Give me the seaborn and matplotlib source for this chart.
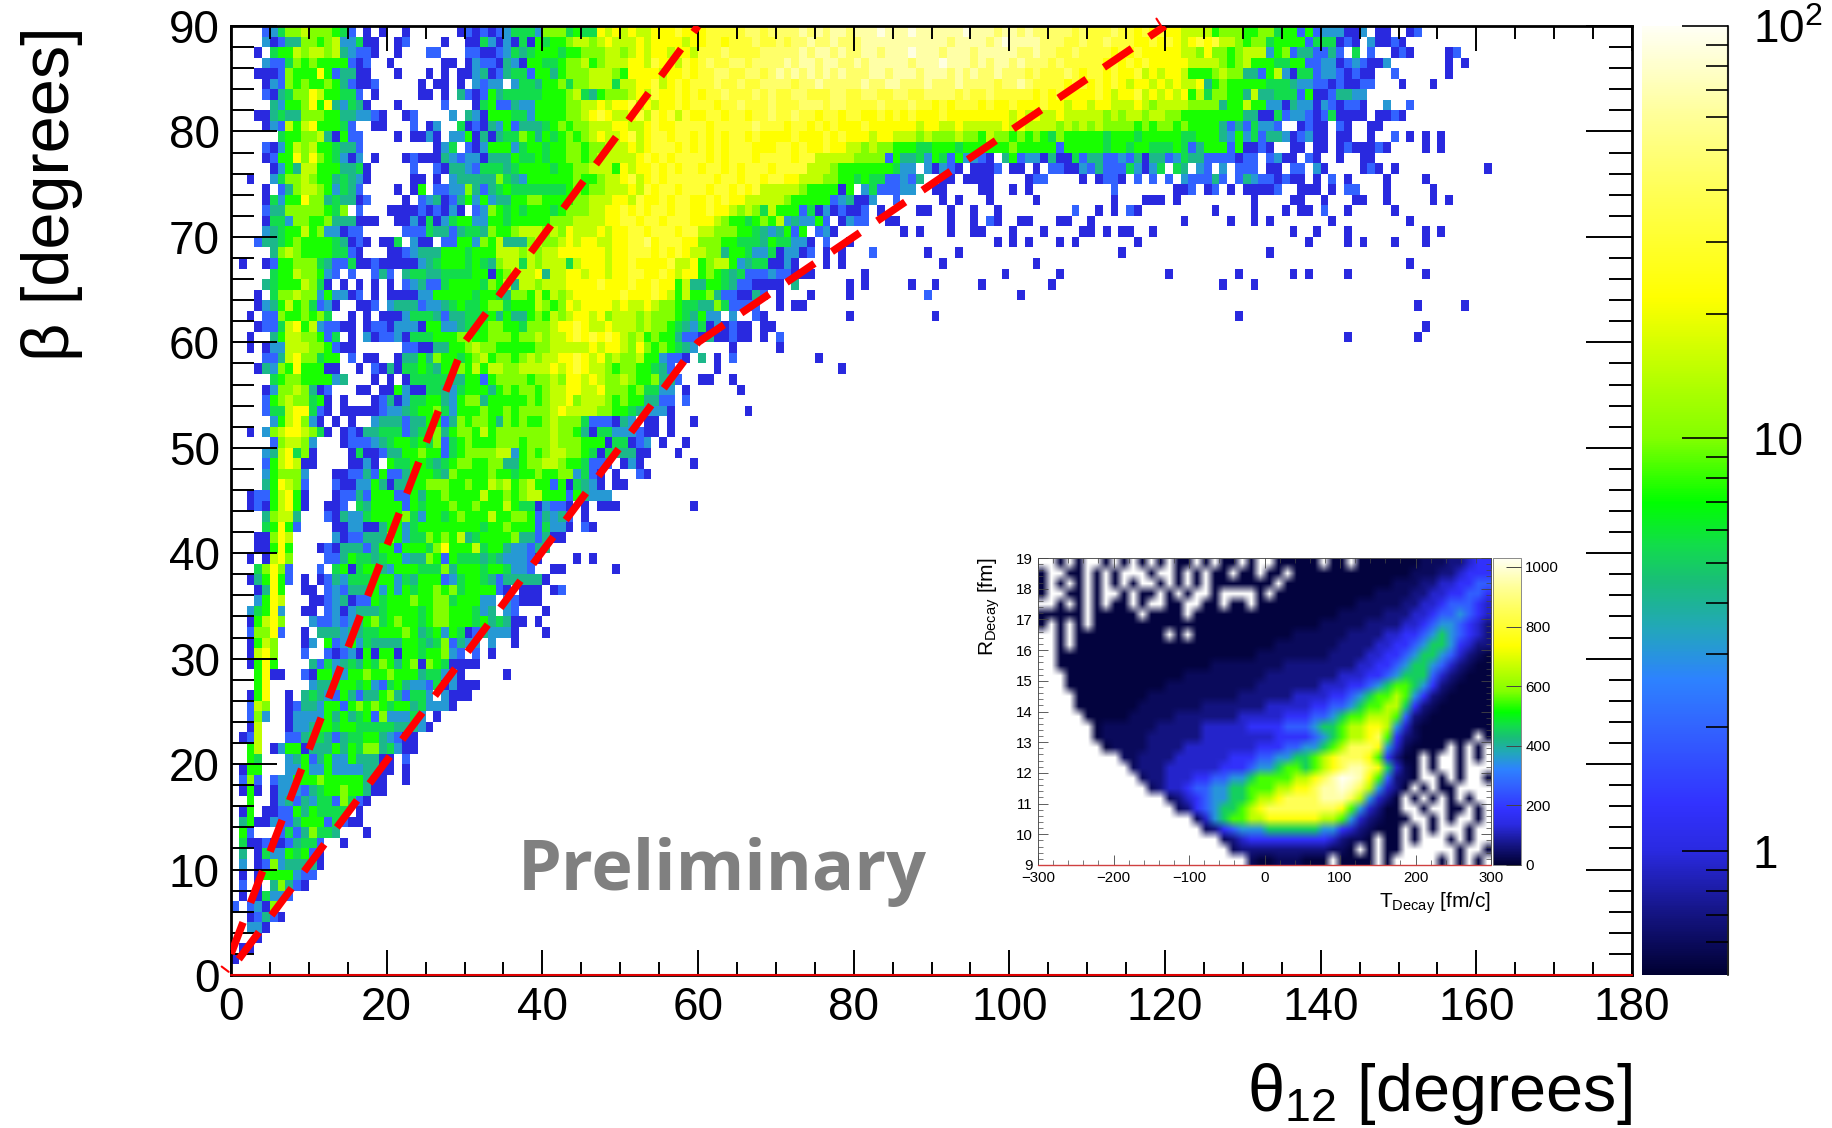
import matplotlib
matplotlib.use('Agg')
import matplotlib.pyplot as plt
from matplotlib.colors import LinearSegmentedColormap, LogNorm, Normalize
from matplotlib.ticker import FixedLocator, MultipleLocator
import numpy as np
import seaborn as sns

sns.set_style('white')
plt.rcParams['font.family'] = ['Liberation Sans', 'DejaVu Sans']
plt.rcParams['mathtext.fontset'] = 'custom'
plt.rcParams['mathtext.rm'] = 'Liberation Sans'
plt.rcParams['mathtext.it'] = 'Liberation Sans'
plt.rcParams['mathtext.default'] = 'rm'
plt.rcParams['text.color'] = 'black'
plt.rcParams['axes.labelcolor'] = 'black'
plt.rcParams['xtick.color'] = 'black'
plt.rcParams['ytick.color'] = 'black'
plt.rcParams['axes.axisbelow'] = False

# each character is one 1 degree bin, '.' is an empty bin
level_counts = {'1': 1, '2': 2, '3': 3.1, '4': 4.2, '5': 5.5, '6': 7.5, '7': 10, '8': 15,
                '9': 22, 'a': 32, 'b': 45, 'c': 65, 'd': 90}

# beta 89 down to 60
rows_top = [
    "....235778 777652.1.1 ..1......1 2121235553 7775655989 8988999a99 9aaaaabbab bbbcbcbccb cccdcccdcc ccccdcccbc cbcbbbbbab aaabaa9a9a 9988886777 6677566262 333113.11. .12",
    "....312447 767833511. .12....1.. 1153131516 5667887898 8898999989 9aa9aaabaa babbcbbcbb bccccccccc ccbccccbcd ccccbbbaab aabaaa99a9 a989a9a887 6775666625 55121.3112 1",
    "...1.56687 887843221. .1...22... 2211235456 6656677788 7898998998 aaabaaaabb bbbcbccbcb bccbcccdcc cbcccbcccc cbbcbbaaba aaa9a9a999 9988797767 8883672442 242.5.2..1 21....12",
    "....322576 76666212.. 1......11. 1322143166 5567786788 8998a998a9 abaabbabbb bcbccbccbb cbcccccbcc cdcccbcbcc bcbbbabaaa aa9a9a9a99 9998888767 8666556622 331232113. ......1.1",
    "...1112766 69624411.. .1...1.1.1 1341245526 6467778887 69999899a9 aabbaabbab cbcbcbcbcb bbccbcccbc ccbcbcbbcb bbabaaaba9 aa9a99a898 9986667877 4426831552 3321211..2 ......1",
    "....132767 667642112. ....1.11.1 .3233.3554 6675778885 8899a89a9a aabaabaabb bbabbcbbbb bcbbccbbbc bbbcbbbbab bcbaaaa9aa 9a9a989989 8988946766 6665554332 2121122... 1...1",
    "....214577 9866552.1. ....11.1.4 2126455555 6667854677 7898a99a9a 9aabaaabab aabbaaabba abbaabbaab bbbabaabaa aaa9a9a999 9a9899a898 9896857766 4844555261 124433",
    ".....43667 96943541.. .1.....2.. .156224336 6667788989 9a89899a9a aa9aabaaab aaabbbabba aaabaaabaa 9a9aaa9a99 a999a99899 8998889878 8887777466 8663314331 321221..3. .2",
    "...1145447 7766443321 ..12....3. 4316665536 6667789a98 89a8a9a8a9 9aa9aa9aab aabaa9aa9a a99a9a9a99 9a99999999 8989889888 8878788788 7766666666 4411523321 251111.112 1",
    "....132868 966652..11 ...2.13..5 1214362444 5676778889 9889a99aaa a9aaaaabaa a9aa9a9a99 9a99999989 9889888889 8988887878 7877776767 7676666424 25332..121 1.21..11",
    "......5667 7841622... .1.1131.33 6141455764 6567678988 9a89aa9aa9 a9a9aa9a99 99a999a9a9 9989988878 7778776877 6767657666 6656665666 6655666436 3524431231 1.11..1..2 .1.1.1",
    "....213687 8665442... ......135. 2136663566 5667767788 8989aaa9a9 a9a9aaa999 aa9a99a998 8787766655 6665666666 7666662666 6656656655 5652466626 1121..11.1 1.1211121. ...1.1",
    "....126697 9765313.1. ..12111432 3314446556 5667767888 889a9a9aaa a9a9aaa9aa aa9aa88888 7777264453 65263321.4 6233141152 4422324144 2354422221 22.2311.21 ..1..11",
    ".....13648 86664451.. ...2..2144 3255545666 6566778886 9899a9a9aa 9aa9a9aaa9 aaaa888766 66666533.3 1321.1112. 11.1.22113 2422253135 .54.32.3.2 22.11.22.3 1....121.1 .......... .1",
    "..1..35778 76645431.. ...11.1.34 4444754366 6666766788 9a89a9aaaa aa9aa9aa9a a998887766 565522324. .11.1111.. ..122....1 .1221.2.2. 2.322242.2 43221211.1 .2.1....1. ...1",
    "....1.2478 8763542... .1.16.2233 7424565555 5556767788 898a9aa9aa a9aa9a9a88 8887666616 .3522233.. 11....11.. 1.1....... ...2...... .112.12.1. 11112..111 .1.22...1. ....1",
    "....153669 77454412.. ..1.234124 6363446677 6666778889 98a99a9aa9 9a9a998888 8766666234 113..2.... .1.1...1.. ...1...... ...1...111 .1........ .1....11.. 1...11..1. ....1.1",
    "....244777 77657.2... 1111212131 .237656566 6567778899 a9a9aa9aa9 9a99878758 6662513121 12.1....11 ..1..1..1. ........2. .1.1.21... ......1... .1...1.11. 2..1.....1",
    "....155377 667444111. .113151356 6336656666 6777888899 aa9aa9aaa9 9987665676 8343362.13 22..11.... ..1..1.21. .11...11.. 1......... ..1.....1. .1.1...... .1........ .1",
    "....345668 6733122... ..22254424 5547667888 7879888989 9aa9aaa9aa 8877766543 4626.231.. ......1.1. ..1..11... 1...1....1 1.1.11..1. .......... ......1..1 ...1...... ...1.1",
    "...2445676 66654121.1 15.311.226 6376844478 7789899889 9aab9aaa99 7776655546 55331.2..1 .......... ........1. 1.1...1.1. ......1... .......... ........1. ...1.1...1 ...1",
    ".....47876 6665521... 1123444666 5666888787 8899999989 9aaa9a9a98 8774665335 13312.1.1. ..2......1 ...1...... .......... ....1..... .......... ...1",
    ".1..126677 7542251121 1111345666 5654788587 8885899989 9a9999a889 6788634551 131...1.1. .......... .1........ ...1...... .......... .......... .......... .......... .1",
    ".....56687 7632.2..24 2.45544555 5661678889 4889989989 9aa99a9899 6765452223 22111..... .1........ .........1 ......1... .......... 1........1 ......1.1. ...1...... ...1",
    "....456668 751.1.1.1. 1.23422566 6657684887 8889999a99 9a99a99684 4665422111 1.4......1 .1.....1.. 1.....1... .....1.... .......... .......1.. .1",
    "...1.57787 7363312.1. 1111336666 6566547768 6878999999 a999a98686 674221142. 1...1....1 .........2 .......... .1",
    "...1346867 5231..112. 3444233456 5567756668 7679899998 9889877655 44752222.. 1.11...... .......... .......... .......... .......... .......... .......... .......... ..1.....1",
    "..1.227667 675..1.1.1 1135554244 5556464467 6878998978 8878777654 633.3..21. .........1 .......... 1......... .......... .......... .........1",
    "...1225896 832211.122 1333166334 5567766577 7899a98898 8878776543 5131211.11 .......... .......... .......... .......... .......... .......... .......... .......... ...1",
    "..1..46887 7625.1.312 2315556667 7667776778 7889a9a9a9 8786766422 1411211.1. 2......... .......... .......... .......... .......... .......... .......... ...1...... ..1",
]

# beta 59 down to 30
rows_mid = [
    "..1.133888 776211.... ..22114466 7877666667 7888889899 8797676543 ....1..... 1",
    "....224897 7566.2.11. .144647665 6786776787 8899a98978 778663221. 4.1.2..... .....1",
    "...1437696 6611..1.21 4155654667 6868877888 8989a98876 7766542... ..1....... ........1",
    ".....56776 66634...1. 1.15555544 6626777767 7879989877 87667442.. 11..1",
    "....137787 412...11.1 1631155435 6664676776 7889988977 7675533.1. .....1",
    "....267877 561.1...12 4135566436 7746666676 7889788876 7664422.2.",
    "....255899 521.111112 3345667536 6676676777 7898888776 6543331... ......1",
    ".....36897 31.1.1..34 4424466247 6776476766 7877752221 43.11.1..1",
    "..1.378998 751.121445 5524557467 7686777777 7877641553 33211.1",
    ".....27887 3...122234 5665657256 7666777677 7877766615 5123.1..1",
    "....348957 1....15112 4466766256 7777883676 7887765154 4411...1",
    "....268981 1....1131. 6556654567 7667744677 887665222. 131......1",
    "....367773 ...1122426 2246665476 6667665667 66773521.1 ..21",
    "....469872 ...2113364 1446677766 7668786786 62615431.1 1",
    "..12268961 ...1224266 6226466766 6686676788 666264333.",
    "..12168961 ..112.5466 6626566676 6766686551 3221.1.111 .........1",
    "....47884. ..21433566 6675366567 6668667762 4342.1",
    "....56962. ...1133114 6635666666 6656676662 5331.21",
    "...11798.. ...3122444 7635576768 4566667442 411",
    "...11696.. .121444246 6266657966 6856643324 4",
    "..1.1897.. ..22465545 6634476265 5545433321 ....1.1",
    "...57972.. .2.5615664 3666555746 665665332. .11......1",
    "..146962.1 .124355566 6354666235 6654244444 1",
    "...1496..1 1.23244463 6365667675 666621.111 .12",
    "...3698... 1123412265 6667667756 6633.32111",
    "..35693..1 1.23134445 6666567766 6534.32... 1",
    "..16897... 3223234675 6766567766 65645411.1",
    "..27792..1 .444344556 6676456365 1243331... 1",
    "..1687...1 3.62363544 4466545724 33.3..1",
    "..1897...2 ..21231616 6166566732 .2.1",
]

# beta 29 down to 0
rows_low = [
    "..1696.... 4253454657 6467176511 11",
    "...6911..2 1663366766 7666455331 .....1",
    "...69..... 3445665632 5643325131 11",
    "..169..1.4 5432642446 742553.311 1",
    "..287..124 4366267676 566453331.",
    "..273..133 3364645627 33353.1",
    "..18...133 4665665555 544431",
    ".128...224 5542455664 3211",
    "..68.13661 4446465774 5311",
    "..65...346 2463364441 1.2",
    ".166...336 3363333441 1.1",
    ".272.23366 6766666411 ..1",
    ".161.13332 4566766411",
    "..6..13424 35527521",
    ".16.112264 65555.1",
    ".461132246 6625211",
    ".62...2524 7554...1",
    ".511211245 52..1",
    ".4.1533656 21",
    ".3.1273444 41",
    ".1.1666632 2",
    ".2.1.47421",
    ".1.15332",
    "2.2317",
    "..12421",
    "..331",
    "...1",
    ".11",
    "1",
    "",
]

# palette of the z axis, count and colour
cbar_counts = [0.5, 0.7, 1, 1.3, 2, 2.6, 3.4, 4.5, 5.5, 7, 10, 13, 22, 41, 60, 100]
cbar_colors = ['#000032', '#141482', '#2a2ae1', '#3232ff', '#3264ff', '#2d82ff', '#23a5be', '#19be78',
               '#12dc4b', '#00ff00', '#82ff00', '#aaff00', '#ffff00', '#ffff5a', '#ffff96', '#fffff5']

# dashed red borders
upper_theta = [0, 30, 60]
upper_beta = [2, 60, 90]
lower_theta = [1, 60, 120]
lower_beta = [1.5, 60, 90]
stub_theta = [[-1.2, -0.3], [118.9, 119.5]]
stub_beta = [[0.8, 0.3], [90.7, 90.0]]

# inset, 12 fm/c by 1/3 fm cells
decay_levels = {'0': 12, 'l': 35, '1': 65, '2': 120, '3': 180, '4': 260, '5': 350, '6': 450, '7': 550,
                '8': 650, '9': 750, 'a': 850, 'b': 950, 'c': 1000, 'd': 1030}
decay_rows = [
    "..0.0..0.0 .0.0.00.0. 00.0..0000 0.00.00000 00lll11233",
    "0..00.0.0. ..0..0.0.0 0.00.00.00 0000000000 0lll112333",
    "0.0.0.0.0. 0..0.0.0.0 000000.000 000000000l ll11223344",
    "0..00.0..0 .00.0.0..0 ....0.0000 0000000lll l112233443",
    "..0.0.0.00 .0..00..00 .00.000000 00000lllll 1122344432",
    "00000.0000 0.0000.000 0000000000 000lllll11 1223445432",
    "0.0.0.0000 0000000000 0000000000 0lllll1111 2234554321",
    "..0.000000 0000.0.000 00000000ll llll111122 3345654321",
    "..0.000000 0000000000 000000llll lll1111223 3456653211",
    "..00000000 0000000000 0000llllll ll11112233 45665421l0",
    "..00000000 000000000l lllllll111 1111122334 5665421l00",
    "...0000000 000000llll lllll11111 1112223345 666421l000",
    "...0000000 0000llllll llll111111 1222334567 76531l0000",
    "....000000 00llllllll ll11111122 2233456778 7531l00000",
    "....000000 0lllllll11 1111122222 3344567788 631l000000",
    ".....00000 lllll11111 1122222333 4456778887 41l0000000",
    "......0lll lll1111122 2223333444 5667889985 2l00000000",
    "......0lll ll11111122 2222223333 4567889a73 1l000000.0",
    ".......0ll ll11112222 2222333445 5678aaa952 l0000.0.0.",
    ".........l l111122222 2333445566 789aaa9731 00.0..0.0.",
    ".......... l111222222 3334556776 789abba962 l0.0..0...",
    ".......... .l11222334 4556777788 9abdcb9741 l0..0.0..0",
    ".......... ..l1223445 5667778899 abbcba8521 0.0.00....",
    ".......... ....l12345 5667889aaa abbba85210 .0.0.0.0..",
    ".......... .....l1345 66789aaaaa aaa9752100 ..0..00.0.",
    ".......... .......l25 6778899999 9887521l00 0..0.0..0.",
    ".......... ........l1 3455566666 655321l000 .0.0...0..",
    ".......... .......... l123333333 3321ll0.00 .0...0.0..",
    ".......... .......... .l11111111 11ll0.0.00 ......0..0",
    ".......... .......... ...l00lll0 00.0000.0. ....0.0.0.",
]


def rows_to_grid(rows, levels, n_cols):
    grid = np.full((len(rows), n_cols), np.nan)
    for i, row in enumerate(rows):
        cells = ''.join(g.ljust(10, '.')[:10] for g in row.split())
        for j, ch in enumerate(cells[:n_cols]):
            if ch != '.':
                grid[i, j] = levels[ch]
    return grid


W, H = 1832, 1128


def box(left, top, right, bottom):
    return [left / W, 1 - bottom / H, (right - left) / W, (bottom - top) / H]


fig = plt.figure(figsize=(W / 100, H / 100), dpi=100)
ax = fig.add_axes(box(231, 26, 1632, 975))
cax = fig.add_axes(box(1642, 26, 1728, 975))

t = (np.log10(cbar_counts) - np.log10(0.5)) / (2 - np.log10(0.5))
palette = LinearSegmentedColormap.from_list('z_palette', list(zip(t, cbar_colors)), N=512)
palette.set_bad('white', alpha=0)
inset_palette = palette.copy()
inset_palette.set_bad('white')

main_grid = rows_to_grid(rows_top + rows_mid + rows_low, level_counts, 180)
sns.heatmap(main_grid, ax=ax, cbar_ax=cax, cmap=palette, norm=LogNorm(0.5, 100),
            xticklabels=False, yticklabels=False)
ax.set_xlim(0, 180)
ax.set_ylim(90, 0)
ax.set_axisbelow(False)

ax.xaxis.set_minor_locator(MultipleLocator(5))
ax.yaxis.set_minor_locator(FixedLocator([90 - b for b in range(0, 91, 2)]))
ax.set_xticks(range(0, 181, 20), [str(v) for v in range(0, 181, 20)])
ax.set_yticks([90 - b for b in range(0, 91, 10)], [str(b) for b in range(0, 91, 10)])
ax.tick_params(axis='x', which='major', direction='in', length=18, width=1.4, top=True, bottom=True,
               labelsize=33, pad=8)
ax.tick_params(axis='x', which='minor', direction='in', length=9.5, width=1.4, top=True, bottom=True)
ax.tick_params(axis='y', which='major', direction='in', length=33, width=1.4, left=True, right=True,
               labelsize=33, pad=8)
ax.tick_params(axis='y', which='minor', direction='in', length=16.5, width=1.4, left=True, right=True)
for spine in ax.spines.values():
    spine.set_visible(True)
    spine.set_linewidth(2)
    spine.set_color('black')


def to_row(beta):
    return 90 - np.asarray(beta, dtype=float)


dash = dict(color='#ff0000', lw=5.4, linestyle=(0, (4.5, 2.8)), dash_capstyle='butt', zorder=5)
ax.plot(upper_theta, to_row(upper_beta), **dash)
ax.plot(lower_theta, to_row(lower_beta), **dash)
for st, sb in zip(stub_theta, stub_beta):
    ax.plot(st, to_row(sb), color='#ff0000', lw=1.5, clip_on=False, zorder=5)
ax.plot([0, 180], [90, 90], color='#e00000', lw=1.5, clip_on=False, zorder=6)

ax.set_xlabel(r'$\mathrm{\theta_{12}}$ [degrees]', fontsize=48, loc='right', labelpad=22)
ax.set_ylabel('\u03b2 [degrees]', fontsize=48, loc='top', labelpad=62)

cbar = ax.collections[0].colorbar
cbar.set_ticks([1, 10, 100], labels=['1', '10', '$10^{2}$'])
cbar.ax.yaxis.set_minor_locator(FixedLocator([0.6, 0.7, 0.8, 0.9, 2, 3, 4, 5, 6, 7, 8, 9,
                                              20, 30, 40, 50, 60, 70, 80, 90]))
cbar.ax.yaxis.set_minor_formatter(plt.NullFormatter())
cbar.ax.set_axisbelow(False)
cbar.ax.tick_params(which='major', direction='in', length=33, width=1.2, labelsize=33, pad=18, color='black')
cbar.ax.tick_params(which='minor', direction='in', length=16, width=1.2, color='black')
cbar.outline.set_visible(False)
cbar.ax.axvline(1, color='#222222', lw=1.5, clip_on=False)

fig.text(518 / W, 1 - 890 / H, 'Preliminary', fontsize=50.5, fontweight='bold', color='#808080',
         family='Open Sans')

# inset
iax = fig.add_axes(box(1038, 558, 1491, 865), zorder=10)
icax = fig.add_axes(box(1493, 558, 1521, 865), zorder=10)
decay_grid = rows_to_grid(decay_rows, decay_levels, 50)
decay_norm = Normalize(0, 1030)
sns.heatmap(decay_grid, ax=iax, cbar_ax=icax, cmap=inset_palette, norm=decay_norm,
            xticklabels=False, yticklabels=False)
iax.set_facecolor('white')
iax.set_axisbelow(False)
# the pasted inset is a soft picture, so the cells get blended when drawn
iax.collections[0].set_visible(False)
iax.imshow(decay_grid, cmap=inset_palette, norm=decay_norm, extent=(0, 50, 30, 0), aspect='auto',
           interpolation='bilinear', interpolation_stage='rgba')
iax.set_xlim(0, 50)
iax.set_ylim(30, 0)


def t_pos(v):
    return (np.asarray(v, dtype=float) + 300) / 12


def r_pos(v):
    return (19 - np.asarray(v, dtype=float)) * 3


t_ticks = [-300, -200, -100, 0, 100, 200, 300]
r_ticks = list(range(9, 20))
iax.set_xticks(t_pos(t_ticks), ['\u2212300', '\u2212200', '\u2212100', '0', '100', '200', '300'])
iax.set_yticks(r_pos(r_ticks), [str(v) for v in r_ticks])
iax.xaxis.set_minor_locator(FixedLocator(t_pos(range(-300, 301, 20))))
iax.yaxis.set_minor_locator(FixedLocator(r_pos(np.arange(9, 19.01, 0.2))))
iax.tick_params(axis='x', which='major', direction='in', length=7, width=0.6, labelsize=10.8, pad=4,
                top=True, bottom=True, color='#444444')
iax.tick_params(axis='x', which='minor', direction='in', length=3.5, width=0.5, top=True, bottom=True,
                color='#444444')
iax.tick_params(axis='y', which='major', direction='in', length=7, width=0.6, labelsize=10.8, pad=4,
                left=True, right=True, color='#444444')
iax.tick_params(axis='y', which='minor', direction='in', length=3.5, width=0.5, left=True, right=True,
                color='#444444')
for spine in iax.spines.values():
    spine.set_visible(True)
    spine.set_linewidth(0.7)
    spine.set_color('#555555')
iax.plot([0, 50], [30, 30], color='#d04040', lw=1, clip_on=False, zorder=6)
iax.set_xlabel(r'$\mathrm{T_{Decay}}$ [fm/c]', fontsize=15, loc='right', labelpad=4)
iax.set_ylabel(r'$\mathrm{R_{Decay}}$ [fm]', fontsize=15, loc='top', labelpad=10)

icbar = iax.collections[0].colorbar
icbar.set_ticks([0, 200, 400, 600, 800, 1000])
icbar.ax.set_axisbelow(False)
icbar.ax.tick_params(direction='in', length=11, width=0.7, labelsize=10.8, pad=3, color='#444444')
icbar.outline.set_linewidth(0.6)
icbar.outline.set_edgecolor('#777777')

fig.savefig('out.png', dpi=100)
